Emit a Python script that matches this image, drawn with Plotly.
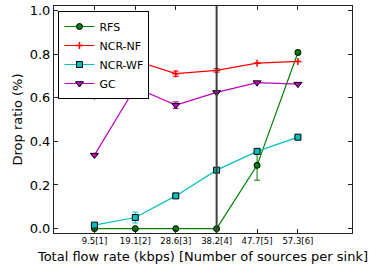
import plotly.graph_objects as go

rates = [9.5, 19.1, 28.6, 38.2, 47.7, 57.3]
tick_labels = ["9.5[1]", "19.1[2]", "28.6[3]", "38.2[4]", "47.7[5]", "57.3[6]"]
marker_x = 38.2

rfs = [0.0, 0.0, 0.0, 0.0, 0.29, 0.807]
rfs_err = [0.0, 0.0, 0.0, 0.0, 0.068, 0.01]
ncr_nf = [0.607, 0.77, 0.710, 0.725, 0.758, 0.766]
ncr_nf_err = [0.0, 0.0, 0.012, 0.008, 0.0, 0.0]
ncr_wf = [0.016, 0.051, 0.150, 0.268, 0.354, 0.419]
ncr_wf_err = [0.005, 0.025, 0.0, 0.0, 0.0, 0.0]
gc = [0.337, 0.647, 0.566, 0.624, 0.669, 0.662]
gc_err = [0.0, 0.0, 0.015, 0.0, 0.0, 0.0]

font = "DejaVu Sans"
fig = go.Figure()

def add(name, y, err, color, symbol, size, mline, mwidth=1):
    fig.add_trace(go.Scatter(
        x=rates, y=y, name=name, mode="lines+markers",
        line=dict(color=color, width=1.2),
        marker=dict(symbol=symbol, size=size, color=color,
                    line=dict(color=mline, width=mwidth)),
        error_y=dict(type="data", array=err, color=color, thickness=1, width=3, visible=True),
    ))

add("RFS", rfs, rfs_err, "#008000", "circle", 6, "black")
add("NCR-NF", ncr_nf, ncr_nf_err, "#ff0000", "cross-thin", 5, "#ff0000", 1.5)
add("NCR-WF", ncr_wf, ncr_wf_err, "#00bfbf", "square", 6, "black")
add("GC", gc, gc_err, "#bf00bf", "triangle-down", 7, "black")

fig.add_vline(x=marker_x, line=dict(color="#404040", width=2))

axis_common = dict(showline=True, linecolor="#222222", linewidth=1, mirror="ticks",
                   ticks="inside", ticklen=4, tickcolor="#222222", showgrid=False,
                   zeroline=False, ticklabeloverflow="allow")

fig.update_layout(
    width=380, height=267,
    margin=dict(l=54, r=28, t=3, b=34),
    paper_bgcolor="white", plot_bgcolor="white",
    font=dict(family=font, size=13, color="black"),
    xaxis=dict(range=[0, 70], tickmode="array", tickvals=rates, ticktext=tick_labels,
               tickfont=dict(size=8.5),
               title=dict(text="Total flow rate (kbps) [Number of sources per sink]",
                          font=dict(size=13), standoff=6),
               **axis_common),
    yaxis=dict(range=[-0.02, 1.02], tickmode="array", tickvals=[0, 0.2, 0.4, 0.6, 0.8, 1.0],
               ticktext=["0.0", "0.2", "0.4", "0.6", "0.8", "1.0"], tickfont=dict(size=13),
               title=dict(text="Drop ratio (%)", font=dict(size=13), standoff=4),
               **axis_common),
    legend=dict(x=0.015, y=0.978, xanchor="left", yanchor="top",
                bgcolor="white", bordercolor="black", borderwidth=1,
                font=dict(size=11), itemwidth=30, tracegroupgap=0),
    showlegend=True,
)

fig.write_html("out.html", config={"displayModeBar": False},
               post_script="document.body.style.margin='0';document.body.style.padding='0';")
